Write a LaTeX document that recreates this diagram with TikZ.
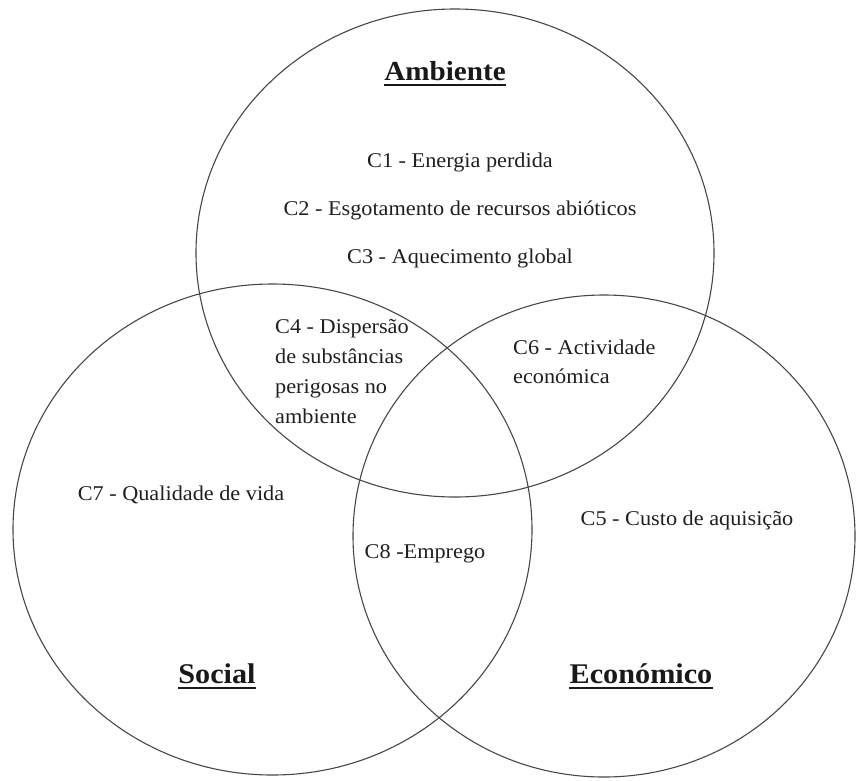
\documentclass[tikz,border=0pt]{standalone}
\usepackage{fontspec}
\setmainfont{Liberation Serif}[FakeStretch=1.06]
\usetikzlibrary{shapes.geometric}
\begin{document}
\begin{tikzpicture}[x=1pt,y=-1pt,
  venn/.style={draw=black!72, line width=1.1pt, ellipse, inner sep=0pt},
  lbl/.style={inner sep=0pt, text=black!88, font=\fontsize{21}{25}\selectfont, anchor=base},
  lblw/.style={lbl, anchor=base west},
  ttl/.style={inner sep=0pt, text=black!90, font=\fontsize{28.5}{32}\selectfont\bfseries, anchor=base},
  ul/.style={line width=1.8pt, draw=black!90}]
\useasboundingbox (0,0) rectangle (857,780);
% circles
\node[venn, minimum width=518pt, minimum height=488pt] (amb) at (455,253) {};
\node[venn, minimum width=519pt, minimum height=491pt] (soc) at (272.5,529.5) {};
\node[venn, minimum width=502pt, minimum height=482pt] (eco) at (604,536) {};
% titles
\node[ttl, font=\fontsize{27.5}{32}\selectfont\bfseries] (tamb) at (445,80) {Ambiente};
\draw[ul] ([yshift=-5pt]tamb.base west) -- ([yshift=-5pt]tamb.base east);
\node[ttl] (tsoc) at (217,683) {Social};
\draw[ul] ([yshift=-5pt]tsoc.base west) -- ([yshift=-5pt]tsoc.base east);
\node[ttl] (teco) at (641,683) {Económico};
\draw[ul] ([yshift=-5pt]teco.base west) -- ([yshift=-5pt]teco.base east);
% criteria
\node[lbl] (c1) at (460,167) {C1 - Energia perdida};
\node[lbl] (c2) at (460,215) {C2 - Esgotamento de recursos abióticos};
\node[lbl] (c3) at (460,263) {C3 - Aquecimento global};
\node[lblw] (c4a) at (275,333) {C4 - Dispersão};
\node[lblw] (c4b) at (275,363) {de substâncias};
\node[lblw] (c4c) at (275,393) {perigosas no};
\node[lblw] (c4d) at (275,423) {ambiente};
\node[lblw] (c6a) at (513,354) {C6 - Actividade};
\node[lblw] (c6b) at (513,383) {económica};
\node[lbl] (c7) at (181,500) {C7 - Qualidade de vida};
\node[lbl] (c5) at (687,525) {C5 - Custo de aquisição};
\node[lbl] (c8) at (425,558) {C8 -Emprego};
\end{tikzpicture}
\end{document}
